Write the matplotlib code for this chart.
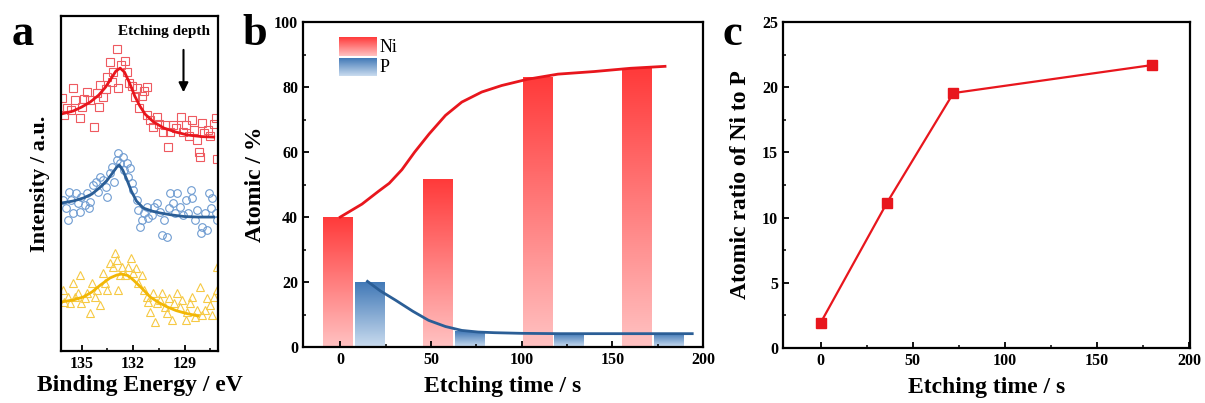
import numpy as np
import matplotlib
matplotlib.use("Agg")
import matplotlib.pyplot as plt
from matplotlib.colors import LinearSegmentedColormap
from matplotlib.ticker import MultipleLocator

# ---- panel a: XPS spectra, binding energy (eV) vs intensity (a.u.) ----
red_E = [136.12, 136.0, 135.82, 135.59, 135.41, 135.47, 135.12, 135.0, 134.88, 134.71,
         134.53, 134.29, 134.12, 134.0, 133.94, 133.76, 133.59, 133.53, 133.35, 133.24,
         133.18, 132.94, 132.88, 132.71, 132.47, 132.35, 132.24, 132.06, 131.88, 131.77,
         131.65, 131.47, 131.35, 131.18, 131.18, 131.0, 130.82, 130.59, 130.47, 130.24,
         130.12, 129.94, 129.82, 129.65, 129.47, 129.18, 129.06, 128.94, 128.76, 128.59,
         128.47, 128.29, 128.18, 128.12, 128.0, 127.88, 127.65, 127.53, 127.29, 127.18, 127.12]
red_I = [253, 236, 243, 241, 251, 263, 233, 244, 252, 259,
         251, 224, 258, 244, 266, 254, 262, 274, 289, 269,
         279, 302, 263, 286, 290, 279, 268, 265, 254, 263,
         243, 255, 260, 264, 236, 231, 224, 234, 227, 219,
         226, 204, 219, 226, 223, 234, 219, 226, 215, 231,
         221, 211, 199, 194, 228, 218, 221, 215, 227, 233, 192]
red_fit_E = [136.2, 135.5, 135.0, 134.5, 134.0, 133.6, 133.3, 133.0, 132.75, 132.5,
             132.2, 131.9, 131.6, 131.3, 130.8, 130.2, 129.5, 128.8, 128.0, 127.3]
red_fit_I = [237, 240, 244, 249, 256, 264, 272, 280, 283, 279,
             268, 255, 245, 237, 229, 223, 219, 216, 214.5, 214]

blue_E = [136.10, 135.90, 135.81, 135.71, 135.61, 135.51, 135.31, 135.22, 135.12, 135.02,
          134.82, 134.69, 134.57, 134.49, 134.34, 134.14, 134.04, 133.94, 133.75, 133.59,
          133.51, 133.35, 133.25, 133.12, 132.96, 132.86, 132.76, 132.61, 132.53, 132.37,
          132.28, 132.18, 132.08, 131.98, 131.78, 131.69, 131.59, 131.49, 131.39, 131.20,
          131.10, 130.90, 130.77, 130.61, 130.41, 130.31, 130.22, 130.02, 129.92, 129.82,
          129.67, 129.53, 129.43, 129.24, 129.08, 128.94, 128.81, 128.65, 128.55, 128.41,
          128.25, 128.06, 127.96, 127.82, 127.67, 127.57, 127.47, 127.37, 127.18, 127.12]
blue_I = [151, 143, 131, 159, 151, 138, 158, 148, 139, 154,
          146, 158, 143, 149, 166, 169, 159, 174, 171, 164,
          154, 178, 184, 169, 191, 198, 188, 194, 181, 188,
          174, 183, 168, 161, 151, 141, 124, 131, 138, 144,
          133, 136, 144, 148, 139, 116, 131, 114, 143, 158,
          148, 138, 158, 144, 136, 151, 138, 161, 153, 131,
          141, 118, 124, 138, 121, 158, 143, 153, 138, 131]
blue_fit_E = [136.2, 135.5, 134.9, 134.4, 133.9, 133.5, 133.2, 132.95, 132.8, 132.6,
              132.35, 132.1, 131.8, 131.4, 130.9, 130.4, 129.7, 129.0, 128.2, 127.3]
blue_fit_I = [148, 150, 153, 157, 164, 171, 178, 184, 186, 181,
              171, 160, 150, 143, 140, 138, 136, 134.5, 134, 134]

yel_E = [136.10, 136.0, 135.81, 135.66, 135.51, 135.41, 135.22, 135.12, 135.02, 134.82,
         134.69, 134.53, 134.37, 134.24, 134.10, 133.94, 133.75, 133.65, 133.51, 133.35,
         133.19, 133.06, 132.96, 132.86, 132.76, 132.67, 132.47, 132.28, 132.14, 131.98,
         131.82, 131.69, 131.49, 131.35, 131.20, 131.10, 131.0, 130.84, 130.71, 130.61,
         130.45, 130.31, 130.12, 130.02, 129.92, 129.73, 129.63, 129.43, 129.28, 129.14,
         128.94, 128.84, 128.69, 128.55, 128.41, 128.25, 128.10, 127.96, 127.82, 127.67,
         127.51, 127.37, 127.28, 127.12, 127.08]
yel_I = [61, 49, 54, 48, 68, 54, 58, 76, 48, 53,
         58, 38, 68, 54, 61, 46, 78, 68, 61, 88,
         84, 98, 91, 61, 76, 84, 76, 84, 93, 78,
         83, 68, 76, 61, 54, 49, 39, 58, 29, 48,
         51, 58, 44, 38, 53, 31, 48, 58, 44, 51,
         31, 39, 48, 54, 34, 41, 64, 36, 41, 53,
         46, 36, 54, 61, 84]
yel_fit_E = [136.2, 135.5, 134.9, 134.4, 133.9, 133.35, 132.95, 132.67, 132.3, 131.98,
             131.5, 131.0, 130.5, 130.0, 129.5, 129.0, 128.6, 128.2]
yel_fit_I = [49, 51, 54, 59, 66, 73, 76, 77, 75.5, 71,
             63, 54, 48.5, 44, 40.5, 38, 36.5, 35]

# ---- panel b: atomic percentage vs etching time ----
ni_pos = [-1.5, 53.5, 108.5, 163.5]
ni_val = [39.8, 51.6, 83.1, 85.8]
p_pos = [16, 71, 126, 181]
p_val = [19.9, 4.8, 4.3, 4.3]
ni_curve_x = [0, 12, 21, 27, 34, 41, 49, 58, 67, 78, 89, 103, 120, 140, 160, 179]
ni_curve_y = [40, 44, 47.9, 50.4, 54.6, 60, 65.6, 71.3, 75.4, 78.5, 80.5, 82.4, 84, 84.8, 85.8, 86.4]
p_curve_x = [15, 22, 30.5, 40, 48.7, 58, 67, 76, 85, 100, 121, 150, 194]
p_curve_y = [20.2, 17.3, 14.4, 11, 8.2, 6.3, 5.1, 4.6, 4.4, 4.2, 4.1, 4.1, 4.1]

# ---- panel c: Ni/P ratio ----
etch_time = [0, 36, 72, 180]
ni_p_ratio = [1.95, 11.15, 19.55, 21.7]

plt.rcParams.update({
    "font.family": "Liberation Serif",
    "font.weight": "bold",
    "axes.labelweight": "bold",
    "axes.linewidth": 1.6,
    "xtick.direction": "in",
    "ytick.direction": "in",
    "xtick.major.width": 1.3,
    "ytick.major.width": 1.3,
    "xtick.minor.width": 1.1,
    "ytick.minor.width": 1.1,
    "xtick.major.size": 4,
    "ytick.major.size": 4,
    "xtick.minor.size": 2.5,
    "ytick.minor.size": 2.5,
    "xtick.labelsize": 11.5,
    "ytick.labelsize": 11.5,
})

RED = "#E8161D"
fig = plt.figure(figsize=(12.05, 4.03), dpi=100)

# ---------------- panel a ----------------
ax_a = fig.add_axes([0.0506, 0.129, 0.1303, 0.831])
ax_a.plot(red_E, red_I, "s", ms=5.3, mfc="none", mec="#EE5A60", mew=0.8)
ax_a.plot(red_fit_E, red_fit_I, color=RED, lw=2)
ax_a.plot(blue_E, blue_I, "o", ms=5.5, mfc="none", mec="#6E9BD1", mew=0.8)
ax_a.plot(blue_fit_E, blue_fit_I, color="#2B5E96", lw=2)
ax_a.plot(yel_E, yel_I, "^", ms=5.8, mfc="none", mec="#F6C944", mew=0.8)
ax_a.plot(yel_fit_E, yel_fit_I, color="#F2B705", lw=2)
ax_a.set_xlim(136.2, 127.05)
ax_a.set_ylim(0, 335)
ax_a.set_yticks([])
ax_a.xaxis.set_minor_locator(MultipleLocator(1.5))
ax_a.set_xticks([135, 132, 129])
ax_a.set_xlabel("Binding Energy / eV", fontsize=17, labelpad=2)
ax_a.set_ylabel("Intensity / a.u.", fontsize=16, labelpad=8)
ax_a.annotate("", xy=(129.06, 256), xytext=(129.06, 304),
              arrowprops=dict(arrowstyle="-|>", color="black", lw=1.5, mutation_scale=14))
ax_a.text(130.2, 320, "Etching depth", fontsize=11, ha="center", va="center")

# ---------------- panel b ----------------
ax_b = fig.add_axes([0.2515, 0.139, 0.332, 0.806])
grad = np.linspace(0, 1, 256).reshape(-1, 1)
ni_cmap = LinearSegmentedColormap.from_list("ni", ["#FFC2C2", "#FF3A3A"])
p_cmap = LinearSegmentedColormap.from_list("p", ["#CADCEF", "#4279B7"])
bar_w = 16
for x, h in zip(ni_pos, ni_val):
    ax_b.imshow(grad, extent=[x - bar_w / 2, x + bar_w / 2, 0, h], origin="lower",
                aspect="auto", cmap=ni_cmap, zorder=1)
for x, h in zip(p_pos, p_val):
    ax_b.imshow(grad, extent=[x - bar_w / 2, x + bar_w / 2, 0, h], origin="lower",
                aspect="auto", cmap=p_cmap, zorder=1)
ax_b.plot(ni_curve_x, ni_curve_y, color=RED, lw=2, zorder=3)
ax_b.plot(p_curve_x, p_curve_y, color="#2B5E96", lw=2, zorder=3)
ax_b.xaxis.set_major_locator(MultipleLocator(50))
ax_b.xaxis.set_minor_locator(MultipleLocator(25))
ax_b.yaxis.set_major_locator(MultipleLocator(20))
ax_b.yaxis.set_minor_locator(MultipleLocator(10))
ax_b.set_xlabel("Etching time / s", fontsize=17, labelpad=6)
ax_b.set_ylabel("Atomic / %", fontsize=17, labelpad=6)
# legend with gradient swatches
ax_b.imshow(grad, extent=[0.09, 0.1825, 0.895, 0.951], origin="lower", aspect="auto",
            cmap=ni_cmap, transform=ax_b.transAxes, zorder=2)
ax_b.imshow(grad, extent=[0.09, 0.1825, 0.834, 0.889], origin="lower", aspect="auto",
            cmap=p_cmap, transform=ax_b.transAxes, zorder=2)
ax_b.text(0.19, 0.922, "Ni", transform=ax_b.transAxes, fontsize=13,
          fontweight="normal", va="center")
ax_b.text(0.19, 0.860, "P", transform=ax_b.transAxes, fontsize=13,
          fontweight="normal", va="center")
ax_b.set_xlim(-20.5, 200)
ax_b.set_ylim(0, 100)

# ---------------- panel c ----------------
ax_c = fig.add_axes([0.6498, 0.1365, 0.3378, 0.8089])
ax_c.plot(etch_time, ni_p_ratio, "-s", color=RED, lw=1.6, ms=7, mfc=RED, mec=RED)
ax_c.set_xlim(-20.5, 200.5)
ax_c.set_ylim(0, 25)
ax_c.xaxis.set_major_locator(MultipleLocator(50))
ax_c.xaxis.set_minor_locator(MultipleLocator(25))
ax_c.yaxis.set_major_locator(MultipleLocator(5))
ax_c.yaxis.set_minor_locator(MultipleLocator(2.5))
ax_c.set_xlabel("Etching time / s", fontsize=17, labelpad=6)
ax_c.set_ylabel("Atomic ratio of Ni to P", fontsize=17, labelpad=8)

for ax in (ax_a, ax_b, ax_c):
    ax.tick_params(which="both", top=False, right=False)

fig.text(0.010, 0.888, "a", fontsize=32, fontweight="bold")
fig.text(0.2008, 0.888, "b", fontsize=32, fontweight="bold")
fig.text(0.600, 0.888, "c", fontsize=32, fontweight="bold")

fig.savefig("out.png", dpi=100)
